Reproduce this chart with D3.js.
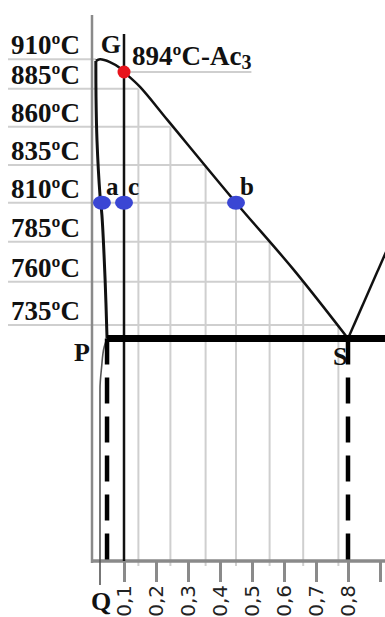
<!DOCTYPE html>
<html>
<head>
<meta charset="utf-8">
<script src="https://cdn.jsdelivr.net/npm/d3@7"></script>
<style>
  html, body { margin: 0; padding: 0; background: #fff; }
  svg { display: block; }
</style>
</head>
<body>
<svg id="chart" width="385" height="617"></svg>
<script>
// Temperature rows (°C) labelled on the left
const tempTicks = [910, 885, 860, 835, 810, 785, 760, 735];
// Carbon content ticks on the bottom axis (% C); the last tick carries no label
const carbonTicks = [0.1, 0.2, 0.3, 0.4, 0.5, 0.6, 0.7, 0.8, 0.9];
const carbonTickLabels = ["0,1", "0,2", "0,3", "0,4", "0,5", "0,6", "0,7", "0,8", ""];
// Carbon content where each row below 910 °C meets the GS line (stepped grid)
const gridCarbon = [0.145, 0.245, 0.355, 0.45, 0.555, 0.66, 0.77];

// G–S line (A3 / Ac3)
const gsCarbon = [0.012, 0.025, 0.056, 0.0875, 0.1, 0.15, 0.2375, 0.45, 0.628, 0.8];
const gsTemp   = [908, 910, 906.5, 899, 894, 886, 864, 810, 768, 727];
// G–P line
const gpCarbon = [0.012, 0.0125, 0.0156, 0.025, 0.031, 0.041, 0.047];
const gpTemp   = [908, 880, 851, 815, 802, 761, 727];
// P–Q line
const pqCarbon = [0.047, 0.038, 0.03, 0.025, 0.025];
const pqTemp   = [727, 722, 710, 697, 581];
// S–E line (Acm)
const seCarbon = [0.8, 0.95];
const seTemp   = [727, 793];
// Eutectoid line P–S
const eutectoidTemp = 727;
const pCarbon = 0.047;
const sCarbon = 0.8;

// Marked points
const pointNames  = ["a", "c", "b"];
const pointCarbon = [0.031, 0.1, 0.45];
const pointTemp   = [810, 810, 810];
// Ac3 point of the 0,1 % C steel
const ac3Carbon = 0.1;
const ac3Temp = 894;
const ac3Label = "894ºC-Ac";
const ac3Sub = "3";

// ---- layout ----
const W = 385, H = 617;
const axisY = 561;       // bottom axis
const axisTopY = 15;     // top of the left axis line
const steelLineTopY = 34;
const labelX = 11;
const gridLeftX = 8;

const svg = d3.select("#chart");
svg.append("rect").attr("width", W).attr("height", H).attr("fill", "#fff");

const x = d3.scaleLinear().domain([0, 0.8]).range([92, 348]);
// schematic temperature axis: uneven spacing between rows
const y = d3.scaleLinear()
  .domain([727, 735, 760, 785, 810, 835, 860, 885, 894, 910])
  .range([338.5, 325, 281.7, 241.7, 202.7, 165, 126.7, 88.7, 72, 59.3]);

const pts = (cs, ts) => cs.map((c, i) => [x(c), y(ts[i])]);
const serif = "'Liberation Serif', 'Times New Roman', serif";

// ---- stepped grid ----
const grid = svg.append("g").attr("stroke", "#cfcfcf").attr("stroke-width", 2);
// 910 row ends at G
grid.append("line")
  .attr("x1", gridLeftX).attr("x2", x(gsCarbon[0]))
  .attr("y1", y(tempTicks[0])).attr("y2", y(tempTicks[0]));
tempTicks.slice(1).forEach((t, i) => {
  grid.append("line")
    .attr("x1", gridLeftX).attr("x2", x(gridCarbon[i]))
    .attr("y1", y(t)).attr("y2", y(t));
  grid.append("line")
    .attr("x1", x(gridCarbon[i])).attr("x2", x(gridCarbon[i]))
    .attr("y1", y(t)).attr("y2", axisY + 5);
});
// underline of the Ac3 label (length set once the label is drawn)
const acUnderline = grid.append("line");

// ---- axes ----
const axisCol = "#8a8a8a";
svg.append("line")
  .attr("x1", x(0)).attr("x2", x(0))
  .attr("y1", axisTopY).attr("y2", axisY + 2)
  .attr("stroke", axisCol).attr("stroke-width", 2.5);

const xAxis = d3.axisBottom(x)
  .tickValues(carbonTicks)
  .tickFormat((d, i) => carbonTickLabels[i])
  .tickSize(21)
  .tickPadding(4);
const gx = svg.append("g").attr("transform", `translate(0,${axisY})`).call(xAxis);
gx.select(".domain").remove();
gx.append("line")
  .attr("x1", x(0)).attr("x2", W)
  .attr("y1", 0).attr("y2", 0)
  .attr("stroke", axisCol).attr("stroke-width", 3.5);
gx.selectAll(".tick line").attr("stroke", axisCol).attr("stroke-width", 3);
gx.selectAll(".tick text")
  .attr("fill", "#222")
  .attr("font-family", "'DejaVu Sans', sans-serif")
  .attr("font-size", 20)
  .attr("text-anchor", "end")
  .attr("dy", null)
  .attr("y", null)
  .attr("transform", "translate(6,24) rotate(-90)");

// ---- temperature labels ----
svg.append("g").selectAll("text")
  .data(tempTicks)
  .join("text")
  .attr("x", labelX)
  .attr("y", d => y(d) - 5)
  .attr("font-family", serif)
  .attr("font-weight", "bold")
  .attr("font-size", 27)
  .attr("fill", "#111")
  .text(d => d + "ºC");

// ---- steel composition line at 0,1 % C ----
svg.append("line")
  .attr("x1", x(ac3Carbon)).attr("x2", x(ac3Carbon))
  .attr("y1", steelLineTopY).attr("y2", axisY)
  .attr("stroke", "#111").attr("stroke-width", 2.5);

// ---- phase lines ----
const lineCurve = d3.line().curve(d3.curveCatmullRom.alpha(0.5));
svg.append("path")
  .attr("d", lineCurve(pts(gsCarbon, gsTemp)))
  .attr("fill", "none").attr("stroke", "#111").attr("stroke-width", 2.5);
svg.append("path")
  .attr("d", lineCurve(pts(gpCarbon, gpTemp)))
  .attr("fill", "none").attr("stroke", "#111").attr("stroke-width", 3);
svg.append("path")
  .attr("d", d3.line().curve(d3.curveMonotoneY)(pts(pqCarbon, pqTemp)))
  .attr("fill", "none").attr("stroke", "#555").attr("stroke-width", 1.6);
svg.append("path")
  .attr("d", d3.line()(pts(seCarbon, seTemp)))
  .attr("fill", "none").attr("stroke", "#111").attr("stroke-width", 2.5);

// dashed drops from P and S to the axis
[pCarbon, sCarbon].forEach(c => {
  svg.append("line")
    .attr("x1", x(c)).attr("x2", x(c))
    .attr("y1", y(eutectoidTemp)).attr("y2", axisY)
    .attr("stroke", "#000").attr("stroke-width", 4.5)
    .attr("stroke-dasharray", "26,13");
});

// eutectoid line P–S
svg.append("line")
  .attr("x1", x(pCarbon)).attr("x2", W)
  .attr("y1", y(eutectoidTemp)).attr("y2", y(eutectoidTemp))
  .attr("stroke", "#000").attr("stroke-width", 7);

// ---- Ac3 point and label ----
const acText = svg.append("text")
  .attr("x", x(ac3Carbon) + 8)
  .attr("y", y(ac3Temp) - 7)
  .attr("font-family", serif).attr("font-weight", "bold")
  .attr("font-size", 27).attr("fill", "#111");
acText.append("tspan").text(ac3Label);
acText.append("tspan").attr("font-size", 20).attr("dy", 4).text(ac3Sub);
const acEnd = x(ac3Carbon) + 8 + acText.node().getComputedTextLength();
acUnderline
  .attr("x1", x(ac3Carbon)).attr("x2", acEnd)
  .attr("y1", y(ac3Temp)).attr("y2", y(ac3Temp));
svg.append("circle")
  .attr("cx", x(ac3Carbon)).attr("cy", y(ac3Temp)).attr("r", 6.5)
  .attr("fill", "#e8141c");

// ---- marked points a, c, b ----
svg.append("g").selectAll("ellipse")
  .data(pointNames)
  .join("ellipse")
  .attr("cx", (d, i) => x(pointCarbon[i]))
  .attr("cy", (d, i) => y(pointTemp[i]))
  .attr("rx", 9).attr("ry", 7)
  .attr("fill", "#3a46d4");
svg.append("g").selectAll("text")
  .data(pointNames)
  .join("text")
  .attr("x", (d, i) => x(pointCarbon[i]) + 4)
  .attr("y", (d, i) => y(pointTemp[i]) - 8)
  .attr("font-family", serif).attr("font-weight", "bold")
  .attr("font-size", 25).attr("fill", "#111")
  .text(d => d);

// ---- point letters G, P, S, Q ----
const letter = (t, px, py) => svg.append("text")
  .attr("x", px).attr("y", py)
  .attr("font-family", serif).attr("font-weight", "bold")
  .attr("font-size", 26).attr("fill", "#111")
  .text(t);
letter("G", x(gsCarbon[0]) + 5, y(910) - 6);
letter("P", x(pCarbon) - 33, y(eutectoidTemp) + 22);
letter("S", x(sCarbon) - 15, y(eutectoidTemp) + 26);
letter("Q", x(pqCarbon[pqCarbon.length - 1]) - 9, y(pqTemp[pqTemp.length - 1]) + 25);
</script>
</body>
</html>
